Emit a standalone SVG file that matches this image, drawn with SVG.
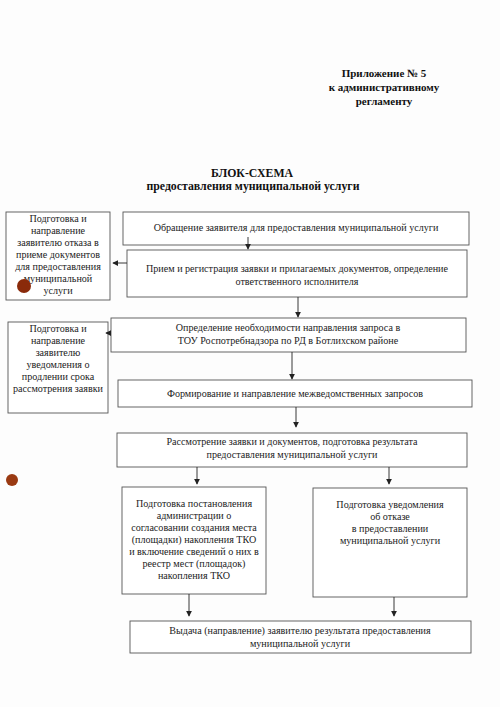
<svg xmlns="http://www.w3.org/2000/svg" width="500" height="707" viewBox="0 0 500 707">
<style>
text{font-family:"Liberation Serif","DejaVu Serif",serif;fill:#222;}
.h{font-size:11px;font-weight:bold;text-anchor:middle;fill:#111;}
.ti{font-size:11.8px;font-weight:bold;text-anchor:middle;fill:#111;}
.t{font-size:10.1px;text-anchor:middle;}
.b{fill:#fff;stroke:#555;stroke-width:0.9;}
.c{stroke:#222;stroke-width:0.9;fill:none;marker-end:url(#a);}
</style>
<defs>
<marker id="a" viewBox="0 0 8 8" refX="7" refY="4" markerWidth="6" markerHeight="6" orient="auto" markerUnits="userSpaceOnUse">
<path d="M0,0 L8,4 L0,8 z" fill="#222"/>
</marker>
</defs>
<rect width="500" height="707" fill="#fdfdfd"/>
<g id="header">
<text class="h" x="384" y="77">Приложение № 5</text>
<text class="h" x="384" y="91">к административному</text>
<text class="h" x="384" y="105">регламенту</text>
<text class="ti" x="252" y="177">БЛОК-СХЕМА</text>
<text class="ti" x="253" y="190">предоставления муниципальной услуги</text>
</g>
<g id="left1">
<rect class="b" x="6" y="212" width="104" height="88"/>
<text class="t" x="58" y="222">Подготовка и</text>
<text class="t" x="58" y="234">направление</text>
<text class="t" x="58" y="246">заявителю отказа в</text>
<text class="t" x="58" y="258">приеме документов</text>
<text class="t" x="58" y="270">для предоставления</text>
<text class="t" x="58" y="282">муниципальной</text>
<text class="t" x="58" y="294">услуги</text>
</g>
<g id="nodeA">
<rect class="b" x="123" y="212" width="346" height="33"/>
<text class="t" x="296" y="231">Обращение заявителя для предоставления муниципальной услуги</text>
</g>
<g id="nodeB">
<rect class="b" x="127" y="250" width="340" height="47"/>
<text class="t" x="297" y="272">Прием и регистрация заявки и прилагаемых документов, определение</text>
<text class="t" x="297" y="285">ответственного исполнителя</text>
</g>
<g id="left2">
<rect class="b" x="8" y="322" width="100" height="91"/>
<text class="t" x="58" y="332">Подготовка и</text>
<text class="t" x="58" y="344">направление</text>
<text class="t" x="58" y="356">заявителю</text>
<text class="t" x="58" y="368">уведомления о</text>
<text class="t" x="58" y="380">продлении срока</text>
<text class="t" x="58" y="392">рассмотрения заявки</text>
</g>
<g id="nodeC">
<rect class="b" x="111" y="318" width="355" height="34"/>
<text class="t" x="288" y="331">Определение необходимости направления запроса в</text>
<text class="t" x="288" y="344">ТОУ Роспотребнадзора по РД в Ботлихском районе</text>
</g>
<g id="nodeD">
<rect class="b" x="118" y="380" width="354" height="27"/>
<text class="t" x="295" y="397">Формирование и направление межведомственных запросов</text>
</g>
<g id="nodeE">
<rect class="b" x="117" y="433" width="350" height="34"/>
<text class="t" x="292" y="445">Рассмотрение заявки и документов, подготовка результата</text>
<text class="t" x="292" y="458">предоставления муниципальной услуги</text>
</g>
<g id="nodeF">
<rect class="b" x="122" y="487" width="144" height="107"/>
<text class="t" x="194" y="507">Подготовка постановления</text>
<text class="t" x="194" y="519">администрации о</text>
<text class="t" x="194" y="531">согласовании создания места</text>
<text class="t" x="194" y="543">(площадки) накопления ТКО</text>
<text class="t" x="194" y="555">и включение сведений о них в</text>
<text class="t" x="194" y="567">реестр мест (площадок)</text>
<text class="t" x="194" y="579">накопления ТКО</text>
</g>
<g id="nodeG">
<rect class="b" x="313" y="488" width="154" height="109"/>
<text class="t" x="390" y="508">Подготовка уведомления</text>
<text class="t" x="390" y="520">об отказе</text>
<text class="t" x="390" y="532">в предоставлении</text>
<text class="t" x="390" y="544">муниципальной услуги</text>
</g>
<g id="nodeH">
<rect class="b" x="130" y="621" width="341" height="32"/>
<text class="t" x="300" y="634">Выдача (направление) заявителю результата предоставления</text>
<text class="t" x="300" y="647">муниципальной услуги</text>
</g>
<g id="connectors">
<line class="c" x1="248" y1="237" x2="248" y2="249"/>
<line class="c" x1="127" y1="263" x2="113" y2="263"/>
<line class="c" x1="298" y1="297" x2="298" y2="317"/>
<line class="c" x1="111" y1="333" x2="106" y2="333"/>
<line class="c" x1="292" y1="352" x2="292" y2="379"/>
<line class="c" x1="296" y1="407" x2="296" y2="427"/>
<line class="c" x1="197" y1="467" x2="197" y2="484"/>
<line class="c" x1="389" y1="467" x2="389" y2="484"/>
<line class="c" x1="189" y1="594" x2="189" y2="616"/>
<line class="c" x1="394" y1="597" x2="394" y2="616"/>
</g>
<g id="marks">
<circle cx="24" cy="286" r="7" fill="#8a2a0a"/>
<circle cx="12" cy="480" r="6" fill="#9a3a12"/>
</g>
</svg>
